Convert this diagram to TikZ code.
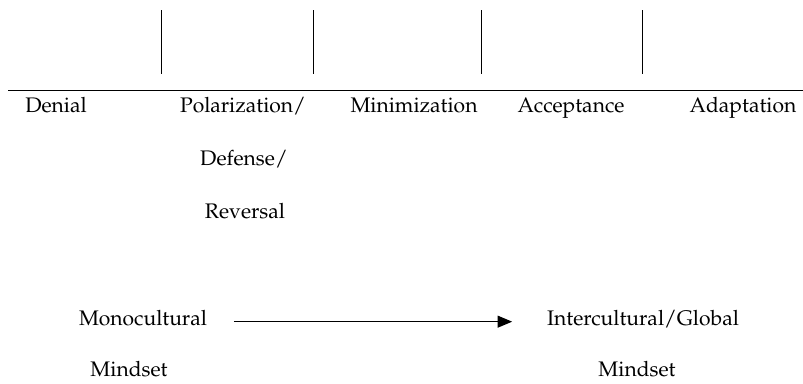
\documentclass[tikz,border=0pt]{standalone}
\usepackage[T1]{fontenc}
\usepackage{mathpazo}
\usepackage{tikz}
\usetikzlibrary{arrows.meta, positioning}

\tikzset{
  stage/.style={inner sep=0pt, anchor=base, font=\fontsize{15.8}{18}\selectfont},
  tick/.style={line width=0.65pt},
  axis/.style={line width=0.65pt},
  shift arrow/.style={-{Triangle[length=11pt, width=9pt]}, line width=0.9pt}
}

\begin{document}
\begin{tikzpicture}[x=0.75pt, y=-0.75pt]
\useasboundingbox (0,0) rectangle (803,383);

% scale ticks and baseline
\foreach \tx in {161, 313, 481, 642}
  \draw[tick] (\tx,10) -- (\tx,74);
\draw[axis] (8,90) -- (803,90);

% stages
\node[stage] (denial) at (56,112) {Denial};
\node[stage] (polar) at (243,112) {Polarization/};
\node[stage] (defense) at (244,165) {Defense/};
\node[stage] (reversal) at (245,218) {Reversal};
\node[stage] (minim) at (414,112) {Minimization};
\node[stage] (accept) at (571,112) {Acceptance};
\node[stage] (adapt) at (743,112) {Adaptation};

% mindsets
\node[stage] (mono) at (143,325) {Monocultural};
\node[stage] (monomind) at (129,376) {Mindset};
\node[stage] (inter) at (643,325) {Intercultural/Global};
\node[stage] (intermind) at (637,376) {Mindset};

\draw[shift arrow, shorten <=20pt, shorten >=26pt] ([yshift=2.5pt]mono.base east) -- ([yshift=2.5pt]mono.base east -| inter.west);
\end{tikzpicture}
\end{document}
